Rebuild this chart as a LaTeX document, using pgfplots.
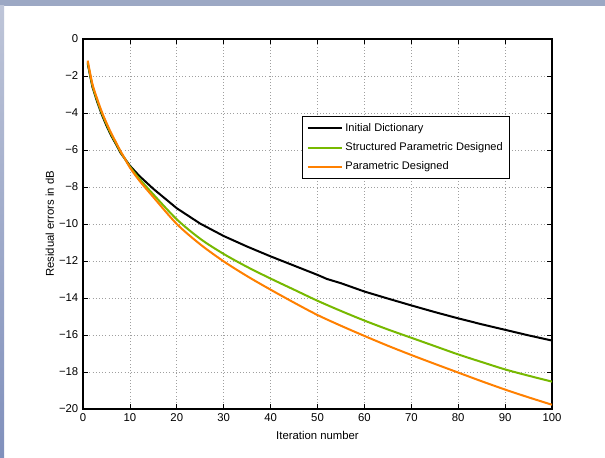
\documentclass[border=0pt]{standalone}
\usepackage{pgfplots}
\pgfplotsset{compat=1.18}
\usepackage{fontspec}
\setmainfont{Liberation Sans}
\definecolor{mgreen}{RGB}{119,185,0}
\definecolor{morange}{RGB}{255,128,0}
\definecolor{topband}{RGB}{156,168,196}
\definecolor{sidetop}{RGB}{190,197,216}
\definecolor{sidemid}{RGB}{222,225,235}
\definecolor{sidebot}{RGB}{128,144,188}

\begin{document}
\begin{tikzpicture}
% window frame of the screenshot (605 x 457 px, 1px = 0.75pt)
\fill[white] (0,0) rectangle (453.75pt,342.75pt);
\fill[topband] (0,338.25pt) rectangle (453.75pt,342.75pt);
\shade[top color=sidetop, middle color=sidemid, bottom color=sidebot] (0,0) rectangle (3pt,338.25pt);
\path[use as bounding box] (0,0) rectangle (453.75pt,342.75pt);

\begin{axis}[
    at={(62.25pt,36pt)}, anchor=south west,
    scale only axis,
    width=351.75pt, height=277.5pt,
    xmin=0, xmax=100,
    ymin=-20, ymax=0,
    xtick={0,10,...,100},
    ytick={-20,-18,...,0},
    yticklabels={−20,−18,−16,−14,−12,−10,−8,−6,−4,−2,0},
    tick align=inside,
    major tick length=3.5pt,
    axis line style={line width=0.8pt},
    every tick/.style={black, line width=0.6pt},
    grid=major,
    major grid style={dotted, gray!75, line width=0.5pt},
    /pgf/number format/assume math mode=true,
    tick label style={font=\fontsize{8.5}{10}\selectfont},
    label style={font=\fontsize{8.5}{10}\selectfont},
    xlabel={Iteration number},
    ylabel={Residual errors in dB},
    xlabel style={at={(axis description cs:0.5,-0.072)}, anchor=center},
    ylabel style={at={(axis description cs:-0.071,0.5)}, anchor=center},
    legend style={at={(0.467,0.792)}, anchor=north west,
        font=\fontsize{8.3}{10}\selectfont, draw=black, line width=0.8pt,
        row sep=3pt, inner xsep=3pt, inner ysep=3pt},
    legend cell align=left,
    legend image code/.code={\draw[#1] (0cm,0cm) -- (0.9cm,0cm);},
]
\addplot[black, line width=1.5pt] coordinates {
(1,-1.33)(2,-2.58)(3,-3.38)(4,-4.08)(5,-4.68)(6,-5.22)(7,-5.67)(8,-6.15)(9,-6.5)(10,-6.85)
(12,-7.4)(15,-8.1)(20,-9.15)(25,-9.98)(30,-10.65)(35,-11.22)(40,-11.75)(45,-12.25)
(50,-12.75)(52,-12.97)(55,-13.2)(60,-13.65)(65,-14.03)(70,-14.4)(75,-14.76)(80,-15.1)
(85,-15.42)(90,-15.72)(95,-16.02)(100,-16.3)
};
\addlegendentry{Initial Dictionary}
\addplot[mgreen, line width=1.5pt, smooth, tension=0.5] coordinates {
(1,-1.25)(2,-2.5)(3,-3.3)(4,-4.0)(5,-4.6)(6,-5.15)(7,-5.62)(8,-6.1)(9,-6.5)(10,-6.9)
(12,-7.55)(15,-8.4)(20,-9.75)(25,-10.8)(30,-11.62)(35,-12.32)(40,-12.95)(45,-13.55)
(50,-14.15)(55,-14.7)(60,-15.22)(65,-15.7)(70,-16.15)(75,-16.6)(80,-17.05)
(85,-17.46)(90,-17.86)(95,-18.2)(100,-18.52)
};
\addlegendentry{Structured Parametric Designed}
\addplot[morange, line width=1.5pt, smooth, tension=0.5] coordinates {
(1,-1.17)(2,-2.42)(3,-3.22)(4,-3.93)(5,-4.53)(6,-5.08)(7,-5.57)(8,-6.06)(9,-6.5)(10,-6.95)
(12,-7.65)(15,-8.55)(20,-10.0)(25,-11.1)(30,-12.02)(35,-12.82)(40,-13.55)(45,-14.25)
(50,-14.92)(55,-15.5)(60,-16.05)(65,-16.58)(70,-17.08)(75,-17.56)(80,-18.03)
(85,-18.5)(90,-18.95)(95,-19.37)(100,-19.77)
};
\addlegendentry{Parametric Designed}
\end{axis}
\end{tikzpicture}
\end{document}
